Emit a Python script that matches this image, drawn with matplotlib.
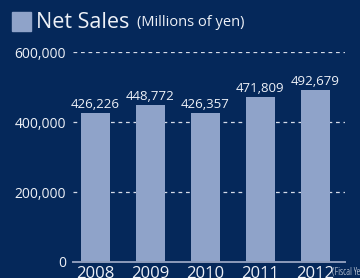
import matplotlib.pyplot as plt

plt.rcParams['font.family'] = ['Open Sans', 'DejaVu Sans']

# data
years = ['2008', '2009', '2010', '2011', '2012']
net_sales = [426226, 448772, 426357, 471809, 492679]
y_ticks = [0, 200000, 400000, 600000]

bg = '#05285a'
bar_col = '#8fa3c9'
txt = '#eef1f7'

fig = plt.figure(figsize=(3.6, 2.78), dpi=100, facecolor=bg)
ax = fig.add_axes([0.203, 0.0576, 0.755, 0.755], facecolor=bg)

x = list(range(len(years)))
bars = ax.bar(x, net_sales, width=0.53, color=bar_col, zorder=3)

for xi, v in zip(x, net_sales):
    ax.text(xi, v + 6000, f'{v:,}', ha='center', va='bottom',
            color=txt, fontsize=9.5, zorder=4)

ax.set_xlim(-0.41, 4.54)
ax.set_ylim(0, 600000)
ax.set_yticks(y_ticks)
ax.set_yticklabels([f'{t:,}' for t in y_ticks])
ax.set_xticks(x)
ax.set_xticklabels(years)

for t in y_ticks[1:]:
    ax.axhline(t, color='#d5dbe8', lw=0.9, ls=(0, (3, 3)), zorder=1)

for s in ['top', 'right', 'left']:
    ax.spines[s].set_visible(False)
ax.spines['bottom'].set_color('#8d9cbb')
ax.spines['bottom'].set_linewidth(1.4)
ax.spines['bottom'].set_zorder(5)

ax.tick_params(axis='y', length=0, pad=5, colors=txt, labelsize=10)
ax.tick_params(axis='x', length=0, pad=3, colors=txt, labelsize=12)

# title with square marker
fig.patches.append(plt.Rectangle((12 / 360, 1 - 31 / 278), 19 / 360, 19 / 278,
                                 transform=fig.transFigure, color=bar_col))
fig.text(36 / 360, 1 - 22 / 278, 'Net Sales', color=txt, fontsize=15.5,
         va='center', ha='left')
fig.text(137 / 360, 1 - 23 / 278, '(Millions of yen)', color=txt, fontsize=10.5,
         va='center', ha='left')
fig.text(332 / 360, 1 - 272 / 278, '(Fiscal Year)', color=txt, fontsize=7,
         va='center', ha='left', fontstretch='condensed')

fig.savefig('out.png', dpi=100, facecolor=bg)
